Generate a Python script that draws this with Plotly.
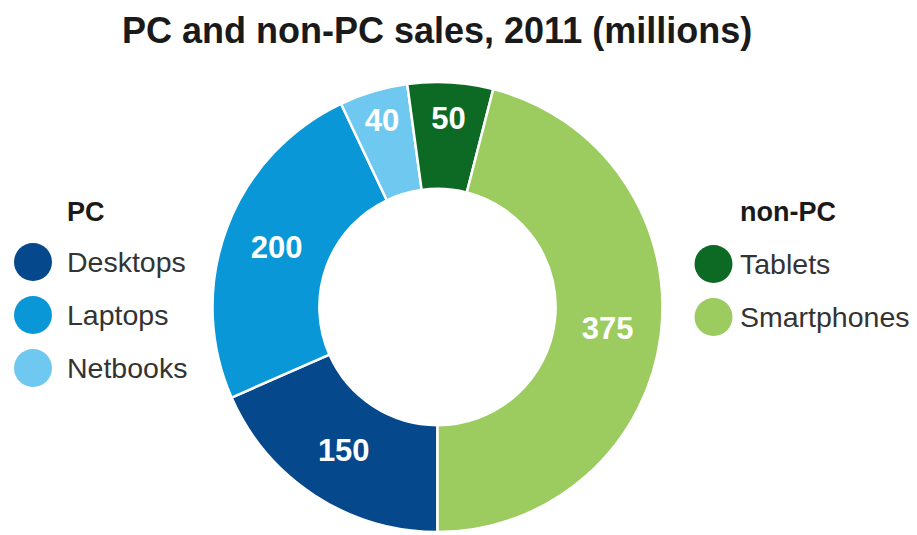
import plotly.graph_objects as go

categories = ["Desktops", "Laptops", "Netbooks", "Tablets", "Smartphones"]
values = [150, 200, 40, 50, 375]
colors = ["#05488C", "#0A97D7", "#6EC8F0", "#0D6A25", "#9CCB5F"]
groups = ["PC", "PC", "PC", "non-PC", "non-PC"]
group_titles = ["PC", "non-PC"]
title_text = "PC and non-PC sales, 2011 (millions)"

W, H = 917, 535
FONT = "Liberation Sans, Arial, sans-serif"

fig = go.Figure()
fig.add_trace(go.Pie(
    labels=categories,
    values=values,
    marker=dict(colors=colors, line=dict(color="white", width=2.5)),
    hole=0.525,
    sort=False,
    direction="clockwise",
    rotation=180,
    texttemplate="%{value}",
    textposition="inside",
    insidetextorientation="horizontal",
    textfont=dict(family=FONT, size=31, color="white", weight="bold"),
    showlegend=False,
    hoverinfo="label+value",
    domain=dict(x=[212.5 / W, 662.5 / W], y=[2 / H, 454 / H]),
))

# custom legends (two groups) with circular swatches
legend_layout = {
    "PC": dict(cx=33, tx=65, title_y=212, ys=[262, 315, 368]),
    "non-PC": dict(cx=713.5, tx=738, title_y=212, ys=[264, 317]),
}
shapes = []
annotations = []
for g in group_titles:
    L = legend_layout[g]
    annotations.append(dict(
        x=L["tx"] / W, y=1 - L["title_y"] / H, xref="paper", yref="paper",
        xanchor="left", yanchor="middle", showarrow=False,
        text="<b>%s</b>" % g, font=dict(family=FONT, size=27, color="#1a1a1a")))
    idx = [i for i, gg in enumerate(groups) if gg == g]
    for k, i in enumerate(idx):
        yc = L["ys"][k]
        r = 19
        shapes.append(dict(
            type="circle", xref="paper", yref="paper",
            x0=(L["cx"] - r) / W, x1=(L["cx"] + r) / W,
            y0=1 - (yc + r) / H, y1=1 - (yc - r) / H,
            fillcolor=colors[i], line=dict(width=0)))
        annotations.append(dict(
            x=L["tx"] / W, y=1 - yc / H, xref="paper", yref="paper",
            xanchor="left", yanchor="middle", showarrow=False,
            text=categories[i], font=dict(family=FONT, size=28.5, color="#333333")))

annotations.append(dict(
    x=437 / W, y=1 - 30 / H, xref="paper", yref="paper",
    xanchor="center", yanchor="middle", showarrow=False,
    text="<b>%s</b>" % title_text, font=dict(family=FONT, size=36, color="#1a1a1a")))

fig.update_layout(
    width=W, height=H,
    margin=dict(l=0, r=0, t=0, b=0),
    paper_bgcolor="white", plot_bgcolor="white",
    shapes=shapes, annotations=annotations,
)
fig.write_html("out.html")
